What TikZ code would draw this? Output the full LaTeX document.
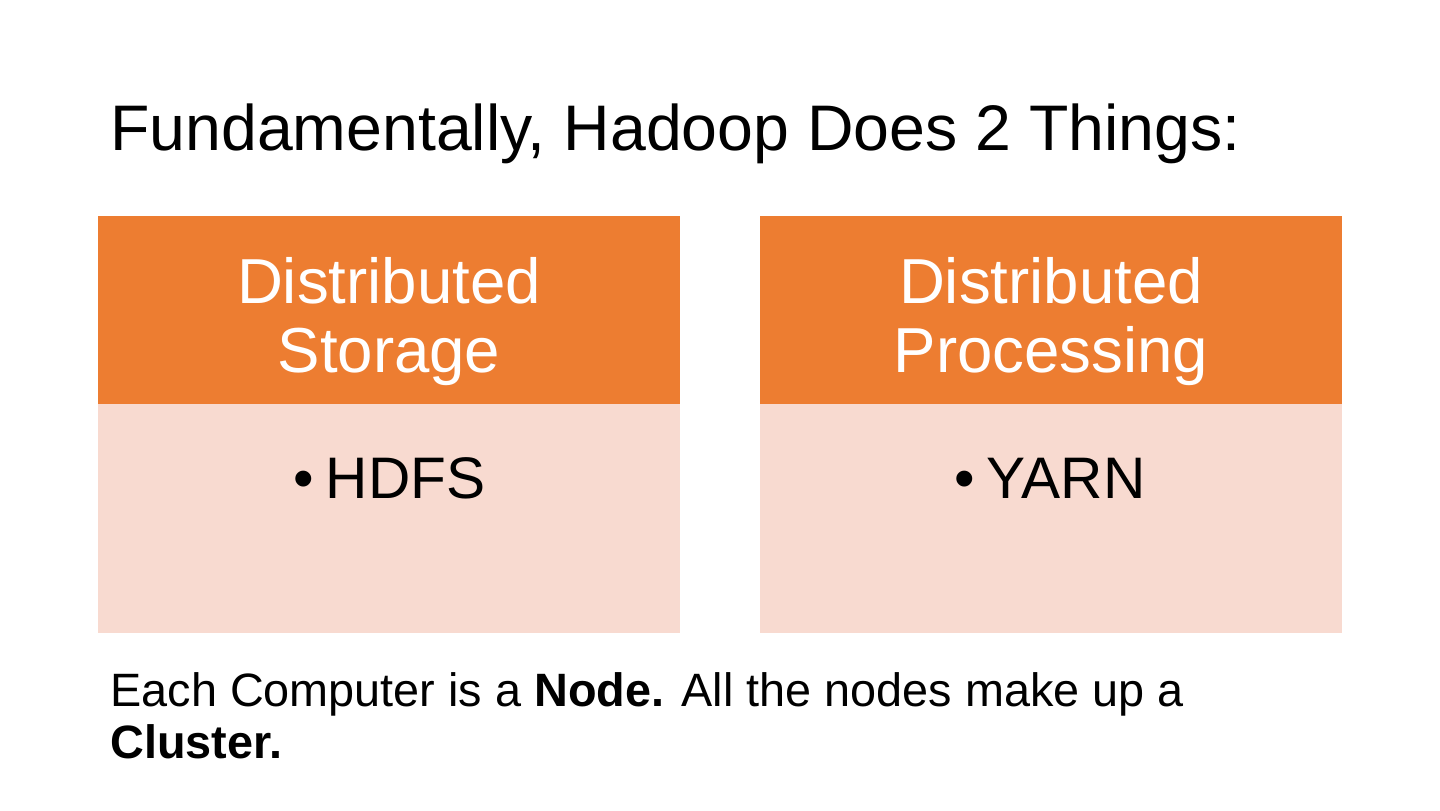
\documentclass[tikz,border=0pt]{standalone}
\usepackage{fontspec}
\setmainfont{Liberation Sans}
\definecolor{hdorange}{HTML}{ED7D31}
\definecolor{hdpink}{HTML}{F8DAD0}
\begin{document}
\begin{tikzpicture}[x=0.5pt,y=-0.5pt,
  head/.style={fill=hdorange,draw=none,inner sep=0pt,minimum width=291pt,minimum height=94pt,anchor=north west},
  body/.style={fill=hdpink,draw=none,inner sep=0pt,minimum width=291pt,minimum height=114.5pt,anchor=north west},
  bigtxt/.style={inner sep=0pt,font=\fontsize{32.2}{38}\selectfont},
  headtxt/.style={inner sep=0pt,anchor=base,text=white,font=\fontsize{31.8}{37}\selectfont},
  itemtxt/.style={inner sep=0pt,anchor=base west,font=\fontsize{29.3}{35}\selectfont},
  smalltxt/.style={inner sep=0pt,anchor=base west,font=\fontsize{23.4}{26}\selectfont}]
\useasboundingbox[fill=white] (0,0) rectangle (1440,810);
\node[bigtxt,anchor=base west] (title) at (110,150) {Fundamentally, Hadoop Does 2 Things:};
% left box
\node[head] (lhead) at (98,216) {};
\node[body] (lbody) at (98,404) {};
\node[headtxt] (lh1) at (389,303) {Distributed};
\node[headtxt] (lh2) at (389,372) {Storage};
\node[itemtxt] (litem) at (293,498) {•\hspace{6pt}HDFS};
% right box
\node[head] (rhead) at (760,216) {};
\node[body] (rbody) at (760,404) {};
\node[headtxt] (rh1) at (1051,303) {Distributed};
\node[headtxt] (rh2) at (1051,372) {Processing};
\node[itemtxt] (ritem) at (954,498) {•\hspace{6pt}YARN};
% bottom text
\node[smalltxt] (foot1) at (110,706) {Each Computer is a \textbf{Node.} All the nodes make up a};
\node[smalltxt] (foot2) at (110,758) {\textbf{Cluster.}};
\end{tikzpicture}
\end{document}
